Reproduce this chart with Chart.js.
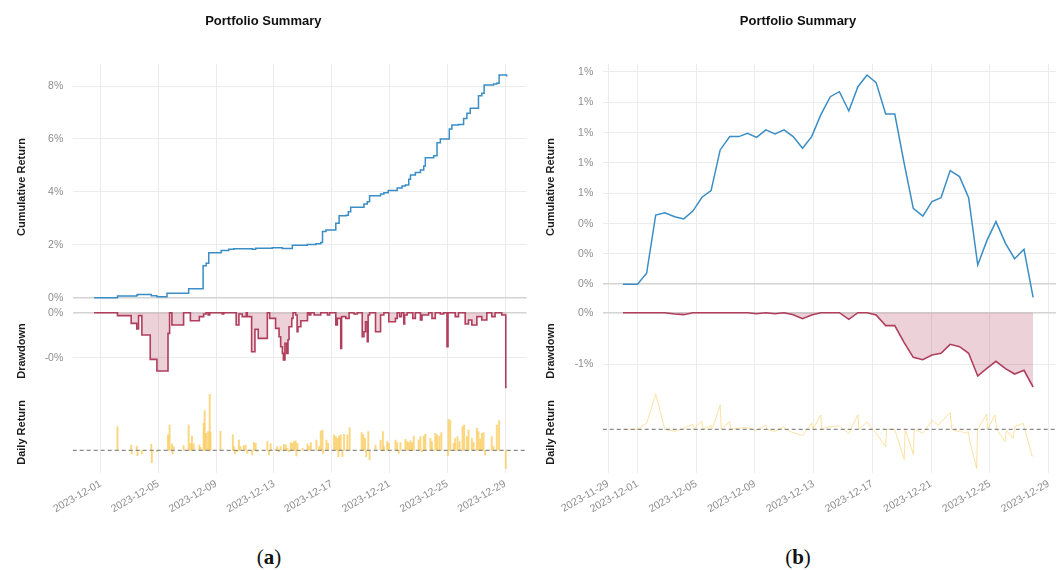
<!DOCTYPE html>
<html>
<head>
<meta charset="utf-8">
<script src="https://cdn.jsdelivr.net/npm/chart.js@4.4.1/dist/chart.umd.min.js"></script>
<style>
  html, body { margin: 0; padding: 0; background: #fff; width: 1060px; height: 570px; overflow: hidden; }
  canvas { position: absolute; top: 0; }
  #panelA { left: 0; }
  #panelB { left: 538px; }
  .cap { position: absolute; top: 545px; line-height: 24px; font-family: "Liberation Serif", "DejaVu Serif", serif;
         font-size: 21px; color: #111; transform: translateX(-50%); white-space: nowrap; }
</style>
</head>
<body>
<canvas id="panelA" width="541" height="530"></canvas>
<canvas id="panelB" width="522" height="530"></canvas>
<div class="cap" style="left:269px">(<b>a</b>)</div>
<div class="cap" style="left:798px">(<b>b</b>)</div>
<script>
// x values are days counted from 2023-12-01 (0 = 2023-12-01 00:00)

// ---------- panel (a): intraday strategy ----------
const xTickDaysA   = [0, 4, 8, 12, 16, 20, 24, 28];
const xTickLabelsA = ['2023-12-01', '2023-12-05', '2023-12-09', '2023-12-13', '2023-12-17', '2023-12-21', '2023-12-25', '2023-12-29'];

const cumTicksA      = [0, 2, 4, 6, 8];
const cumTickLabelsA = ['0%', '2%', '4%', '6%', '8%'];
const ddTicksA       = [0, -0.05];
const ddTickLabelsA  = ['0%', '-0%'];

// cumulative return (%), value takes effect at the given day
const cumDaysA = [-0.46, 1.16, 2.50, 2.57, 3.50, 3.89, 4.59, 6.09, 7.09, 7.30, 7.48, 8.34, 8.87, 9.22, 10.49, 10.73,
  11.88, 12.58, 13.27, 14.30, 14.90, 15.24, 15.36, 15.60, 16.28, 16.51, 17.00, 17.15, 17.31, 18.23, 18.46, 18.62,
  19.38, 19.61, 19.91, 20.53, 20.87, 21.10, 21.33, 21.45, 21.79, 22.14, 22.37, 22.48, 23.06, 23.29, 23.52, 24.14,
  24.32, 24.78, 25.13, 25.36, 25.59, 26.16, 26.39, 26.55, 27.20, 27.43, 27.59, 28.00, 28.11];
const cumValuesA = [0.00, 0.06, 0.10, 0.12, 0.07, 0.04, 0.17, 0.34, 1.21, 1.30, 1.70, 1.78, 1.83, 1.85, 1.83, 1.87,
  1.89, 1.86, 1.98, 2.01, 2.04, 2.09, 2.50, 2.56, 2.81, 3.10, 3.12, 3.25, 3.42, 3.54, 3.63, 3.85,
  3.92, 3.97, 4.05, 4.15, 4.22, 4.26, 4.48, 4.64, 4.73, 4.83, 4.98, 5.29, 5.37, 5.86, 6.00, 6.38,
  6.53, 6.55, 6.77, 6.97, 7.16, 7.63, 7.73, 8.04, 8.08, 8.11, 8.42, 8.42, 8.36];

// drawdown (%)
const ddDaysA = [-0.46, 1.16, 2.11, 2.50, 2.62, 2.85, 3.43, 3.89, 4.66, 4.77, 4.93, 5.74, 6.21, 6.83, 7.13, 7.30,
  7.44, 7.55, 8.41, 8.52, 9.38, 9.57, 9.80, 10.08, 10.15, 10.45, 10.68, 10.91, 11.54, 11.70, 12.11, 12.35,
  12.46, 12.58, 12.65, 12.76, 12.88, 12.97, 13.04, 13.23, 13.32, 13.50, 13.60, 13.66, 13.86, 14.32, 14.44, 14.55,
  14.78, 15.24, 15.70, 15.85, 16.28, 16.39, 16.62, 16.68, 16.97, 17.20, 17.54, 17.77, 18.11, 18.23, 18.34, 18.46,
  18.52, 18.62, 19.03, 19.38, 19.61, 19.95, 20.41, 20.53, 20.69, 20.83, 20.99, 21.05, 21.22, 21.61, 21.79, 22.14,
  22.25, 22.71, 22.94, 23.17, 23.52, 23.75, 23.98, 24.05, 24.55, 24.78, 25.24, 25.47, 25.70, 26.05, 26.39, 26.74,
  27.08, 27.31, 27.77, 28.05, 28.11];
const ddValuesA = [0, -0.0033, -0.0119, -0.0181, -0.0033, -0.0248, -0.0519, -0.0648, -0.0230, 0, -0.0137, 0, -0.0089, -0.0044, -0.0015, 0,
  -0.0026, 0, -0.0015, 0, -0.0137, -0.0015, -0.0044, 0, -0.0044, -0.0433, -0.0185, -0.0285, 0, -0.0063, -0.0174, -0.0267,
  -0.0378, -0.0452, -0.0526, -0.0341, -0.0452, -0.0300, -0.0156, -0.0063, 0, -0.0026, -0.0211, -0.0156, -0.0089, 0, -0.0026, 0,
  -0.0026, 0, -0.0026, 0, -0.0137, -0.0063, -0.0396, -0.0044, -0.0063, 0, -0.0015, 0, -0.0267, -0.0211, -0.0100, -0.0322,
  -0.0026, 0, -0.0211, -0.0026, 0, -0.0100, -0.0063, 0, -0.0044, 0, -0.0126, -0.0026, 0, -0.0063, 0, -0.0081,
  -0.0026, 0, -0.0063, 0, -0.0015, 0, -0.0378, 0, -0.0044, 0, -0.0126, -0.0081, -0.0137, -0.0044, -0.0081, 0,
  -0.0044, 0, -0.0026, -0.0830, -0.0830];

// period returns (%)
const retDaysA = [1.16, 2.11, 2.15, 2.50, 2.55, 2.85, 3.50, 3.54, 3.89, 4.66, 4.77, 4.93, 4.98, 5.05, 5.74, 6.09,
  6.21, 6.32, 6.44, 6.83, 6.90, 7.13, 7.20, 7.30, 7.44, 7.55, 7.60, 8.29, 9.15, 9.22, 9.29, 9.45, 9.57, 9.68,
  9.91, 10.03, 10.15, 10.49, 10.61, 10.73, 10.84, 11.54, 11.65, 11.77, 12.11, 12.23, 12.35, 12.46, 12.69, 12.81,
  12.93, 13.04, 13.16, 13.27, 13.39, 13.50, 13.55, 13.62, 13.98, 14.32, 14.44, 14.55, 14.94, 15.13, 15.24, 15.36,
  15.40, 15.63, 15.75, 16.16, 16.28, 16.39, 16.46, 16.51, 16.62, 16.74, 16.85, 17.08, 17.24, 18.07, 18.18, 18.30,
  18.39, 18.53, 18.62, 19.03, 19.38, 19.54, 19.61, 19.84, 19.95, 20.41, 20.53, 20.64, 20.76, 21.10, 21.22, 21.33,
  21.45, 21.56, 21.68, 22.02, 22.14, 22.25, 22.37, 22.48, 22.83, 22.94, 23.17, 23.29, 23.45, 23.59, 24.05, 24.09,
  24.21, 24.44, 24.55, 24.71, 24.85, 25.06, 25.17, 25.36, 25.47, 25.70, 25.82, 26.05, 26.16, 26.28, 26.39, 26.51,
  26.62, 27.08, 27.20, 27.43, 27.59, 28.05];
const retValuesA = [0.394, 0.089, -0.061, 0.072, -0.089, -0.061, 0.100, -0.206, -0.022, 0.256, 0.422, 0.106, -0.061, 0.061, 0.078, 0.422,
  0.117, 0.239, 0.106, 0.089, 0.050, 0.450, 0.661, 0.283, 0.311, 0.933, 0.294, 0.322, 0.256, 0.061, -0.061, -0.022, 0.172, 0.061,
  0.078, 0.083, -0.050, -0.078, 0.128, 0.117, -0.022, 0.144, -0.078, 0.106, 0.022, 0.061, -0.022, 0.061, 0.100, 0.089,
  0.033, -0.022, 0.128, 0.117, 0.144, 0.156, -0.094, 0.117, 0.033, 0.106, 0.061, 0.128, 0.172, 0.061, 0.322, 0.339,
  -0.050, 0.172, 0.117, 0.256, 0.228, 0.200, -0.106, 0.239, 0.256, -0.106, 0.267, 0.256, 0.378, 0.294, 0.256, 0.200,
  -0.106, 0.311, -0.161, 0.089, 0.172, 0.311, 0.061, 0.144, 0.117, 0.172, 0.128, -0.050, 0.128, 0.183, 0.144, 0.128,
  0.161, 0.128, 0.239, 0.172, 0.228, -0.022, 0.239, 0.267, 0.200, 0.144, 0.283, 0.256, 0.239, 0.294, -0.089, 0.522,
  0.494, 0.117, 0.200, 0.228, 0.144, 0.394, 0.422, 0.228, 0.339, 0.200, 0.128, 0.367, 0.311, 0.183, 0.283, 0.294,
  -0.078, 0.228, 0.061, 0.422, 0.494, -0.300];

// ---------- panel (b): daily strategy ----------
const xTickDaysB   = [-2, 0, 4, 8, 12, 16, 20, 24, 28];
const xTickLabelsB = ['2023-11-29', '2023-12-01', '2023-12-05', '2023-12-09', '2023-12-13', '2023-12-17', '2023-12-21', '2023-12-25', '2023-12-29'];

const cumTicksB      = [0, 0.2, 0.4, 0.6, 0.8, 1.0, 1.2, 1.4];
const cumTickLabelsB = ['0%', '0%', '0%', '1%', '1%', '1%', '1%', '1%'];
const ddTicksB       = [0, -1];
const ddTickLabelsB  = ['0%', '-1%'];

const daysB = [-0.99, 0, 0.62, 1.24, 1.86, 2.53, 3.15, 3.77, 4.39, 5.01, 5.63, 6.28, 6.90, 7.49, 8.11, 8.74,
  9.36, 9.98, 10.60, 11.24, 11.86, 12.48, 13.13, 13.75, 14.39, 15.01, 15.63, 16.25, 16.90, 17.52, 18.16, 18.78,
  19.43, 20.05, 20.67, 21.29, 21.93, 22.55, 23.17, 23.79, 24.41, 25.06, 25.68, 26.32, 26.94];
const cumValuesB = [0, 0, 0.0725, 0.457, 0.472, 0.446, 0.431, 0.483, 0.574, 0.618, 0.886, 0.974, 0.974, 0.996, 0.969, 1.018,
  0.991, 1.018, 0.974, 0.897, 0.974, 1.117, 1.237, 1.270, 1.143, 1.303, 1.380, 1.330, 1.123, 1.123, 0.798, 0.501,
  0.450, 0.545, 0.571, 0.750, 0.710, 0.571, 0.127, 0.288, 0.413, 0.270, 0.169, 0.231, -0.086];
const ddValuesB = [0, 0, 0, 0, 0, -0.025, -0.038, 0, 0, 0, 0, 0, 0, 0, -0.019, 0,
  -0.019, 0, -0.038, -0.116, -0.045, 0, 0, 0, -0.129, 0, 0, -0.045, -0.251, -0.251, -0.581, -0.865,
  -0.910, -0.820, -0.787, -0.613, -0.658, -0.787, -1.227, -1.078, -0.943, -1.085, -1.188, -1.117, -1.440];

const retDaysB = [-0.99, 0, 0.62, 1.24, 1.86, 2.53, 2.99, 3.77, 3.82, 4.39, 4.44, 5.01, 5.08, 5.63, 5.70, 6.28,
  6.34, 6.90, 7.49, 8.11, 8.74, 8.80, 9.36, 9.98, 10.05, 10.60, 11.24, 11.86, 11.93, 12.48, 12.55, 13.13,
  13.75, 14.39, 15.01, 15.08, 15.63, 16.25, 16.90, 16.97, 17.52, 18.16, 18.23, 18.78, 18.85, 19.43, 20.05, 20.49,
  21.29, 21.40, 21.85, 21.97, 22.31, 22.53, 22.64, 23.09, 23.16, 23.77, 23.84, 24.34, 24.45, 25.02, 25.13, 25.58,
  25.69, 26.26, 26.89];
const retValuesB = [0, 0, 0.060, 0.350, 0, -0.020, 0, 0.050, 0, 0.083, 0, 0.037, 0, 0.243, 0, 0.077,
  0, 0.013, 0.017, -0.013, 0.043, 0, -0.020, 0.027, 0, -0.033, -0.063, 0.060, 0, 0.143, 0, 0.027,
  0.033, -0.040, 0.143, 0, 0.073, -0.040, -0.173, 0, 0, -0.300, 0, -0.250, 0, -0.040, 0.087, 0.043,
  0.167, 0, -0.023, -0.013, -0.040, -0.023, -0.123, -0.390, 0, 0.150, 0, 0.143, 0, -0.123, -0.013, -0.090,
  0.027, 0.060, -0.273];

// ---------- drawing ----------
const FONT = '"Liberation Sans", Arial, Helvetica, sans-serif';
const BLUE = '#3a8dc5';
const RED = '#b03e5d';
const PINK = 'rgba(176, 62, 93, 0.24)';
const GOLD = 'rgba(250, 200, 80, 0.72)';
const GOLD_LINE = 'rgba(250, 205, 100, 0.6)';
const TICK_GREY = '#8e8e8e';

function toPoints(xs, ys) { return xs.map((x, i) => ({ x: x, y: ys[i] })); }
function gridColor(c) { return c.tick && c.tick.value === 0 ? '#d3d3d3' : '#ececec'; }
function gridWidth(c) { return c.tick && c.tick.value === 0 ? 1.6 : 1; }
function fixedTicks(values) { return scale => { scale.ticks = values.map(v => ({ value: v })); }; }

function buildPanel(canvas, p) {
  const tickFont = { family: FONT, size: 10.5 };
  const titleFont = { family: FONT, size: 11, weight: 'bold' };
  const yTitle = text => ({ display: true, text: text, color: '#1b1b1b', font: titleFont, padding: { top: p.yTitlePad, bottom: 0 } });
  const yTicks = labels => ({ padding: p.tickPad, color: TICK_GREY, font: tickFont, callback: (v, i) => labels[i] });

  const retDataset = p.retBars
    ? { type: 'bar', label: 'Daily Return', yAxisID: 'yRet', data: toPoints(p.retDays, p.retValues),
        backgroundColor: GOLD, barThickness: 1.3, order: 3 }
    : { label: 'Daily Return', yAxisID: 'yRet', data: toPoints(p.retDays, p.retValues),
        borderColor: GOLD_LINE, borderWidth: 1, pointRadius: 0, tension: 0, fill: false, order: 3 };

  return new Chart(canvas, {
    type: 'line',
    data: {
      datasets: [
        { label: 'Cumulative Return', yAxisID: 'yCum', data: toPoints(p.cumDays, p.cumValues),
          borderColor: BLUE, borderWidth: 1.5, pointRadius: 0, stepped: p.stepped, fill: false, order: 1 },
        { label: 'Drawdown', yAxisID: 'yDD', data: toPoints(p.ddDays, p.ddValues),
          borderColor: RED, backgroundColor: PINK, borderWidth: 1.6, pointRadius: 0, stepped: p.stepped, fill: 'origin', order: 2 },
        retDataset,
        { label: 'zero', yAxisID: 'yRet', data: [{ x: p.xMin, y: 0 }, { x: p.xMax, y: 0 }],
          borderColor: '#8a8a8a', borderDash: [4, 3], borderWidth: 1.2, pointRadius: 0, fill: false, order: 0 }
      ]
    },
    options: {
      responsive: false,
      animation: false,
      devicePixelRatio: 1,
      layout: { padding: { left: 0, right: p.padRight, top: 0, bottom: 0 }, autoPadding: false },
      plugins: {
        legend: { display: false },
        tooltip: { enabled: false },
        title: { display: true, text: 'Portfolio Summary', color: '#111',
                 font: { family: FONT, size: 13, weight: 'bold' }, padding: { top: 14, bottom: 34.4 } }
      },
      scales: {
        x: {
          type: 'linear', min: p.xMin, max: p.xMax, offset: false,
          afterBuildTicks: fixedTicks(p.xTicks),
          afterFit: s => { s.height = 57.3; },
          grid: { color: '#ececec', lineWidth: 1, drawTicks: false, offset: false },
          border: { display: false },
          ticks: { autoSkip: false, minRotation: 30, maxRotation: 30, padding: 5, color: TICK_GREY, font: tickFont,
                   callback: (v, i) => p.xTickLabels[i] }
        },
        yCum: {
          type: 'linear', position: 'left', stack: 'panel', stackWeight: 246, weight: 3,
          min: p.cumMin, max: p.cumMax,
          afterBuildTicks: fixedTicks(p.cumTicks),
          afterFit: s => { s.width = p.axisW; },
          grid: { color: gridColor, lineWidth: gridWidth, drawTicks: false },
          border: { display: false },
          ticks: yTicks(p.cumTickLabels),
          title: yTitle('Cumulative Return')
        },
        yDD: {
          type: 'linear', position: 'left', stack: 'panel', stackWeight: 82, weight: 2,
          min: p.ddMin, max: p.ddMax,
          afterBuildTicks: fixedTicks(p.ddTicks),
          afterFit: s => { s.width = p.axisW; },
          grid: { color: gridColor, lineWidth: gridWidth, drawTicks: false },
          border: { display: false },
          ticks: yTicks(p.ddTickLabels),
          title: yTitle('Drawdown')
        },
        yRet: {
          type: 'linear', position: 'left', stack: 'panel', stackWeight: 80.7, weight: 1,
          min: p.retMin, max: p.retMax,
          afterFit: s => { s.width = p.axisW; },
          grid: { display: false, drawTicks: false },
          border: { display: false },
          ticks: { display: false },
          title: yTitle('Daily Return')
        }
      }
    }
  });
}

buildPanel(document.getElementById('panelA'), {
  xMin: -1.94, xMax: 29.5, xTicks: xTickDaysA, xTickLabels: xTickLabelsA,
  cumDays: cumDaysA, cumValues: cumValuesA, cumMin: -0.465, cumMax: 8.835, cumTicks: cumTicksA, cumTickLabels: cumTickLabelsA,
  ddDays: ddDaysA, ddValues: ddValuesA, ddMin: -0.0881, ddMax: 0.003, ddTicks: ddTicksA, ddTickLabels: ddTickLabelsA,
  retDays: retDaysA, retValues: retValuesA, retMin: -0.3733, retMax: 0.9717, retBars: true,
  stepped: true, axisW: 72.7, tickPad: 9.4, yTitlePad: 15.1, padRight: 14.3
});

buildPanel(document.getElementById('panelB'), {
  xMin: -2.37, xMax: 28.5, xTicks: xTickDaysB, xTickLabels: xTickLabelsB,
  cumDays: daysB, cumValues: cumValuesB, cumMin: -0.1695, cumMax: 1.4527, cumTicks: cumTicksB, cumTickLabels: cumTickLabelsB,
  ddDays: daysB, ddValues: ddValuesB, ddMin: -1.5368, ddMax: 0.0523, ddTicks: ddTicksB, ddTickLabels: ddTickLabelsB,
  retDays: retDaysB, retValues: retValuesB, retMin: -0.434, retMax: 0.373, retBars: false,
  stepped: false, axisW: 64.7, tickPad: 9.4, yTitlePad: 6.7, padRight: 2
});
</script>
</body>
</html>
